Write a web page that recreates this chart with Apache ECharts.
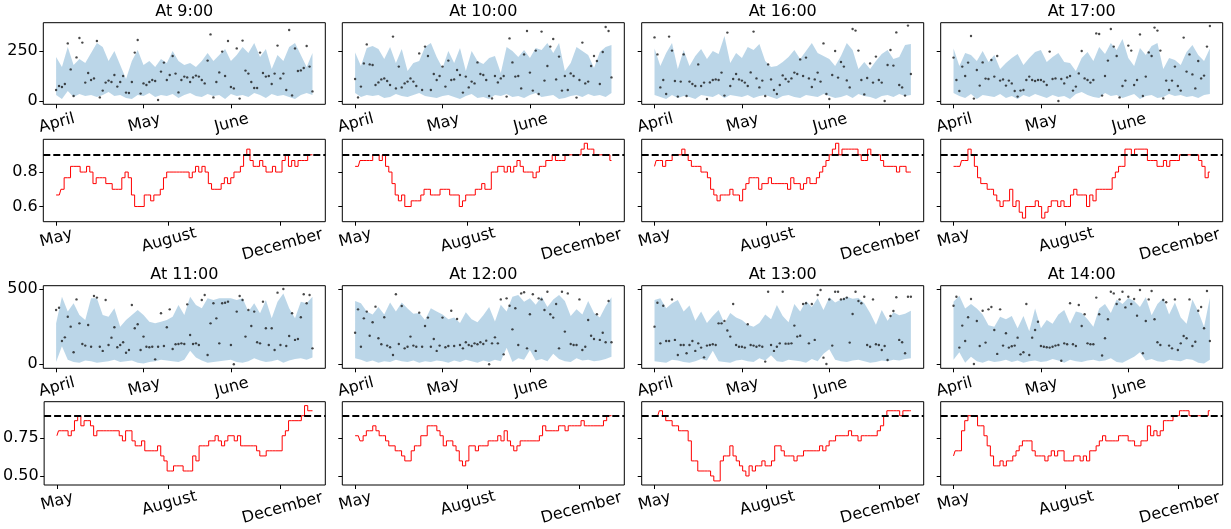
<!DOCTYPE html>
<html><head><meta charset="utf-8">
<script src="https://cdn.jsdelivr.net/npm/echarts@6/dist/echarts.min.js"></script>
<style>html,body{margin:0;padding:0;background:#fff}#c{width:1231px;height:529px}</style>
</head><body><div id="c"></div>
<script>
// ---------- data ----------
const hours = ['9:00','10:00','16:00','17:00','11:00','12:00','13:00','14:00'];
const bandMonthLabels = ['April','May','June'];
const bandTickPos = [0,30,60];
const lineMonthLabels = ['May','August','December'];
const lineTickPos = [0,35,70];
const row1BandTicks = [0,250];
const row2BandTicks = [0,500];
const row1LineTicks = [0.6,0.8];
const row2LineTicks = [0.5,0.75];
const target = 0.9;
const bandStep = 2; // band sampled every 2 days

// upper / lower band edges (every 2 days)
const up9  = [220,170,270,180,210,190,240,290,270,200,250,180,110,200,255,180,200,170,210,190,250,200,180,190,170,200,240,200,230,260,200,230,270,240,290,220,260,160,230,200,270,290,230,170,240];
const lo9  = [30,10,50,20,35,25,30,20,30,45,25,30,15,10,30,25,40,20,30,25,35,15,30,40,25,20,35,25,30,10,35,25,30,20,40,30,15,35,25,30,20,10,30,40,30];
const up10 = [242,175,265,275,260,210,270,190,260,150,190,200,270,290,220,165,250,190,265,150,250,200,185,215,225,140,270,250,220,255,215,265,255,290,240,290,150,190,270,250,230,165,245,270,280];
const lo10 = [40,20,30,25,30,15,20,35,25,20,30,40,25,20,15,25,30,20,10,25,35,15,20,10,30,25,35,20,25,15,30,40,20,25,30,10,15,25,30,20,35,25,30,20,40];
const up16 = [263,175,240,290,160,255,175,225,260,210,250,235,325,190,240,215,270,255,285,200,170,175,195,220,255,210,250,290,240,225,210,175,225,290,255,160,195,160,200,235,255,210,220,280,285];
const lo16 = [30,20,10,30,15,25,20,10,30,25,20,35,15,30,25,20,30,15,25,30,20,10,25,30,20,15,30,25,20,35,25,15,20,30,15,35,25,20,10,25,30,20,35,25,30];
const up17 = [263,175,240,230,200,250,195,230,160,190,215,235,180,215,245,255,195,220,240,195,190,150,215,245,200,270,235,290,255,310,215,175,265,230,275,290,160,215,205,180,245,280,230,200,263];
const lo17 = [40,25,15,35,10,30,25,20,35,15,25,10,30,20,35,25,15,30,20,25,10,35,45,30,20,15,40,25,30,15,25,35,10,25,30,15,20,35,25,30,20,25,15,30,35];
const up11 = [272,449,350,405,328,294,438,438,328,316,372,250,294,328,360,328,283,272,283,294,316,394,328,449,394,372,438,427,438,438,438,427,438,350,405,339,427,305,416,471,372,305,416,405,449];
const lo11 = [15,120,30,15,10,25,20,10,15,20,30,15,20,25,10,5,15,20,30,25,20,15,30,90,45,25,10,15,20,25,30,15,10,20,40,25,15,20,30,10,25,35,40,30,45];
const up12 = [420,405,350,330,380,330,410,350,410,370,335,340,295,372,350,330,300,310,275,345,300,280,325,380,285,395,350,449,460,415,438,395,450,380,430,460,420,320,365,330,420,340,310,385,445];
const lo12 = [40,30,15,25,10,20,15,30,20,15,25,10,20,15,25,20,10,25,15,30,20,10,25,15,30,20,110,15,40,30,95,25,35,20,70,35,20,15,40,25,30,20,25,35,50];
const up13 = [427,438,372,405,427,350,390,290,350,275,320,360,272,340,310,295,262,250,275,330,300,394,320,280,400,350,420,380,438,360,445,410,430,449,435,440,405,340,262,360,290,345,325,335,355];
const lo13 = [20,15,10,30,25,15,10,20,35,25,90,20,15,10,25,30,20,15,40,25,60,20,15,30,25,20,10,35,20,70,100,30,20,15,25,30,20,10,15,25,20,30,25,35,40];
const up14 = [416,455,370,400,370,330,260,250,315,300,320,240,320,220,370,240,295,270,330,360,270,350,340,300,250,370,400,340,430,400,440,420,380,445,325,400,440,330,410,310,270,430,350,250,440];
const lo14 = [30,80,10,50,20,10,25,15,20,30,15,25,10,20,25,15,20,35,25,10,30,20,15,25,30,20,25,40,15,10,30,50,80,25,35,20,15,30,25,20,35,30,10,5,30];

// daily observations (89 days)
const sc9  = [55,75,70,85,288,158,25,218,315,292,92,140,105,113,300,18,52,92,102,95,130,72,95,125,42,40,95,242,305,37,88,80,95,105,100,5,147,192,105,130,225,137,43,105,122,118,95,118,127,122,105,88,202,333,18,95,143,247,125,300,70,63,263,12,302,152,137,95,65,65,242,140,122,125,85,137,277,113,137,55,355,28,263,150,153,165,275,172,48];
const sc10 = [110,18,72,188,283,183,180,80,93,108,113,100,80,322,63,172,68,88,97,113,97,75,238,55,272,225,55,135,105,125,172,72,202,105,108,155,130,42,122,68,97,88,193,135,130,105,25,13,125,93,113,125,22,313,193,122,125,63,233,350,142,52,252,35,347,102,175,272,310,108,222,52,125,55,138,125,17,105,292,88,97,175,225,200,85,245,370,350,118];
const sc16 = [318,233,68,105,35,322,252,100,22,97,233,25,97,85,75,183,75,92,10,93,105,108,105,142,27,342,75,110,135,108,102,92,75,143,347,113,68,102,25,183,108,55,35,80,128,110,97,113,142,135,208,125,217,113,70,108,142,97,288,35,10,130,250,117,195,172,103,68,360,352,252,105,33,115,188,92,222,105,92,0,180,255,177,343,80,68,27,377,135];
const sc17 = [217,105,50,172,125,192,325,12,155,77,193,112,110,205,122,225,102,108,77,102,88,50,22,52,55,105,122,105,100,105,105,97,80,247,110,113,0,110,88,118,125,52,72,138,250,113,105,92,105,338,335,27,125,202,360,272,225,18,75,102,277,252,80,105,333,25,122,243,225,367,352,252,13,102,55,102,172,75,52,317,147,233,133,63,200,113,127,272,375];
const sc11 = [361,376,155,179,316,250,80,431,272,135,124,261,117,454,443,117,89,427,128,177,246,113,128,146,77,95,394,239,266,95,184,117,113,117,33,117,339,122,246,365,102,133,135,139,135,398,195,135,139,128,427,460,62,272,405,305,139,405,409,416,128,0,350,454,427,184,361,254,350,146,139,416,239,128,239,95,476,128,500,122,188,339,162,168,312,465,405,460,106];
const sc12 = [210,365,117,305,350,190,279,383,173,133,312,124,113,62,465,135,387,106,117,184,124,117,343,117,254,310,117,168,89,124,310,113,122,356,122,301,128,106,146,128,122,139,133,146,135,157,0,139,179,139,431,66,438,389,232,372,128,471,478,106,332,465,89,438,431,361,482,332,310,400,106,482,217,471,135,128,128,431,95,117,294,190,168,332,162,210,146,420,146];
const sc13 = [250,409,139,389,155,155,431,162,62,128,128,73,128,155,89,139,111,46,124,128,133,128,272,272,288,224,184,400,128,117,117,111,266,128,124,117,124,117,18,482,128,89,117,139,482,137,137,139,257,184,190,400,405,139,400,162,460,493,44,2,431,124,482,482,431,434,443,144,334,482,420,405,449,128,117,431,133,128,95,122,29,321,354,445,162,146,73,449,449];
const sc14 = [389,449,111,257,155,312,434,2,288,122,356,144,365,381,228,69,365,124,206,111,120,124,177,66,80,400,62,177,228,283,122,117,113,111,117,124,128,24,139,133,405,133,122,394,254,332,139,133,133,443,332,58,173,299,482,471,400,431,482,378,449,400,434,323,493,73,288,431,487,299,146,128,427,412,124,106,431,95,139,188,173,431,122,150,356,381,239,487,155];

// rolling coverage (81 steps)
const ln9  = [0.667,0.667,0.7,0.767,0.767,0.833,0.833,0.833,0.8,0.8,0.833,0.8,0.733,0.767,0.767,0.767,0.733,0.733,0.7,0.7,0.7,0.767,0.8,0.767,0.667,0.6,0.6,0.6,0.667,0.667,0.633,0.667,0.667,0.7,0.767,0.8,0.8,0.8,0.8,0.8,0.8,0.8,0.767,0.8,0.833,0.8,0.833,0.8,0.733,0.7,0.7,0.7,0.733,0.767,0.733,0.767,0.8,0.8,0.833,0.9,0.933,0.867,0.833,0.833,0.867,0.833,0.8,0.8,0.833,0.8,0.8,0.867,0.9,0.833,0.867,0.833,0.867,0.867,0.867,0.9,0.9];
const ln10 = [0.833,0.833,0.867,0.867,0.867,0.867,0.9,0.9,0.867,0.9,0.833,0.8,0.733,0.667,0.633,0.667,0.6,0.6,0.633,0.633,0.633,0.667,0.7,0.7,0.667,0.667,0.667,0.7,0.7,0.7,0.667,0.667,0.667,0.6,0.633,0.667,0.667,0.667,0.7,0.7,0.733,0.7,0.7,0.8,0.8,0.833,0.833,0.8,0.833,0.8,0.833,0.867,0.833,0.8,0.8,0.8,0.767,0.8,0.833,0.833,0.867,0.867,0.9,0.867,0.867,0.867,0.9,0.9,0.9,0.9,0.9,0.933,0.967,0.933,0.933,0.9,0.9,0.9,0.9,0.9,0.867];
const ln16 = [0.833,0.867,0.867,0.833,0.867,0.867,0.9,0.9,0.9,0.933,0.9,0.867,0.833,0.833,0.833,0.8,0.8,0.767,0.7,0.667,0.633,0.667,0.667,0.667,0.7,0.667,0.667,0.633,0.7,0.733,0.767,0.767,0.767,0.7,0.733,0.733,0.767,0.733,0.733,0.733,0.733,0.733,0.7,0.767,0.733,0.733,0.7,0.733,0.767,0.733,0.733,0.767,0.8,0.833,0.867,0.9,0.933,0.967,0.9,0.933,0.933,0.933,0.933,0.933,0.9,0.867,0.867,0.933,0.9,0.9,0.9,0.867,0.833,0.833,0.833,0.833,0.8,0.833,0.833,0.8,0.8];
const ln17 = [0.833,0.833,0.833,0.867,0.867,0.933,0.9,0.833,0.767,0.733,0.733,0.7,0.7,0.667,0.633,0.6,0.633,0.633,0.7,0.6,0.633,0.567,0.533,0.6,0.6,0.6,0.633,0.6,0.533,0.567,0.6,0.633,0.633,0.6,0.633,0.6,0.6,0.667,0.7,0.667,0.667,0.667,0.6,0.667,0.633,0.7,0.7,0.7,0.7,0.7,0.767,0.8,0.833,0.833,0.933,0.933,0.9,0.933,0.933,0.933,0.933,0.867,0.867,0.867,0.833,0.833,0.867,0.833,0.867,0.867,0.867,0.9,0.9,0.9,0.9,0.9,0.9,0.867,0.833,0.767,0.8];
const ln11 = [0.767,0.8,0.8,0.8,0.767,0.8,0.867,0.9,0.833,0.867,0.867,0.833,0.767,0.8,0.8,0.8,0.8,0.8,0.8,0.8,0.767,0.733,0.8,0.8,0.733,0.7,0.7,0.733,0.667,0.667,0.667,0.667,0.7,0.633,0.6,0.533,0.533,0.567,0.567,0.567,0.533,0.533,0.533,0.633,0.6,0.7,0.7,0.7,0.733,0.733,0.767,0.733,0.7,0.733,0.767,0.767,0.733,0.767,0.7,0.7,0.7,0.7,0.7,0.667,0.633,0.633,0.667,0.667,0.667,0.667,0.667,0.767,0.8,0.867,0.867,0.867,0.867,0.9,0.967,0.933,0.933];
const ln12 = [0.767,0.767,0.733,0.767,0.8,0.8,0.833,0.8,0.767,0.767,0.733,0.7,0.7,0.667,0.667,0.633,0.6,0.6,0.667,0.7,0.7,0.767,0.767,0.833,0.833,0.833,0.8,0.767,0.7,0.733,0.733,0.7,0.667,0.6,0.567,0.6,0.7,0.7,0.667,0.7,0.7,0.7,0.733,0.733,0.733,0.767,0.733,0.8,0.733,0.7,0.667,0.7,0.733,0.733,0.733,0.733,0.733,0.733,0.767,0.833,0.8,0.8,0.8,0.8,0.833,0.833,0.8,0.833,0.833,0.833,0.833,0.867,0.833,0.833,0.833,0.833,0.833,0.833,0.867,0.9,0.9];
const ln13 = [0.9,0.9,0.933,0.9,0.867,0.867,0.833,0.833,0.8,0.8,0.8,0.733,0.6,0.6,0.533,0.533,0.533,0.533,0.5,0.467,0.467,0.6,0.633,0.633,0.7,0.633,0.6,0.567,0.533,0.5,0.567,0.533,0.567,0.567,0.6,0.567,0.567,0.6,0.7,0.7,0.667,0.633,0.633,0.633,0.6,0.633,0.633,0.667,0.667,0.667,0.667,0.667,0.7,0.667,0.7,0.733,0.733,0.767,0.767,0.767,0.767,0.8,0.767,0.767,0.733,0.767,0.767,0.767,0.767,0.767,0.8,0.833,0.9,0.933,0.933,0.933,0.933,0.9,0.933,0.933,0.933];
const ln14 = [0.633,0.667,0.667,0.8,0.867,0.9,0.9,0.9,0.833,0.833,0.767,0.7,0.633,0.567,0.567,0.6,0.567,0.6,0.6,0.633,0.667,0.7,0.733,0.733,0.733,0.667,0.633,0.633,0.633,0.6,0.633,0.667,0.633,0.667,0.667,0.6,0.6,0.6,0.633,0.633,0.6,0.633,0.6,0.667,0.667,0.7,0.733,0.767,0.733,0.733,0.733,0.733,0.767,0.767,0.767,0.733,0.733,0.7,0.7,0.733,0.733,0.833,0.767,0.8,0.767,0.8,0.867,0.867,0.867,0.9,0.9,0.933,0.933,0.933,0.9,0.9,0.9,0.9,0.9,0.9,0.933];

const panelUp = [up9,up10,up16,up17,up11,up12,up13,up14];
const panelLo = [lo9,lo10,lo16,lo17,lo11,lo12,lo13,lo14];
const panelSc = [sc9,sc10,sc16,sc17,sc11,sc12,sc13,sc14];
const panelLn = [ln9,ln10,ln16,ln17,ln11,ln12,ln13,ln14];

// ---------- layout ----------
const FONT = 'DejaVu Sans';
const colLeft = [43.3, 342.3, 641.7, 940.7];
const W = 282;
const rowTop = [22.7, 139.3, 285.7, 401.7];
const rowH = [81.6, 82.4, 82.6, 83.3];
const titleTop = [4, 267];
const bandY = [[-16.5, 391.5], [-26.6, 522]];
const lineY = [[0.512, 0.99], [0.44, 0.993]];
const bandTicks = [row1BandTicks, row2BandTicks];
const lineTicks = [row1LineTicks, row2LineTicks];
const linePad = {May: 1, August: 5, December: 15};

const grids = [], xAxes = [], yAxes = [], series = [], titles = [];
const tickStyle = {show: true, length: 4, lineStyle: {color: '#000', width: 1}};
const noLine = {show: false, onZero: false};

hours.forEach((h, k) => {
  const r = Math.floor(k / 4), c = k % 4;
  titles.push({text: 'At ' + h, left: colLeft[c] + W / 2, top: titleTop[r], textAlign: 'center', padding: 0,
    textStyle: {fontFamily: FONT, fontSize: 16, fontWeight: 'normal', color: '#000'}});
  // band panel
  const gB = grids.length;
  grids.push({left: colLeft[c], top: rowTop[2 * r], width: W, height: rowH[2 * r], show: true,
    borderColor: '#000', borderWidth: 1, backgroundColor: 'transparent', containLabel: false});
  xAxes.push({type: 'value', gridIndex: gB, min: -4.4, max: 92.4, axisLine: noLine, splitLine: {show: false},
    axisTick: Object.assign({customValues: bandTickPos}, tickStyle),
    axisLabel: {customValues: bandTickPos, rotate: 15, align: 'center', verticalAlign: 'middle', margin: 16,
      formatter: v => '{a|' + bandMonthLabels[bandTickPos.indexOf(v)] + '}',
      rich: {a: {fontFamily: FONT, fontSize: 16, color: '#000', padding: [6, 0, 0, 0]}}}});
  const bt = bandTicks[r];
  yAxes.push({type: 'value', gridIndex: gB, min: bandY[r][0], max: bandY[r][1], axisLine: noLine, splitLine: {show: false},
    axisTick: Object.assign({customValues: bt}, tickStyle),
    axisLabel: {show: c === 0, customValues: bt, margin: 5.5, fontFamily: FONT, fontSize: 16, color: '#000',
      formatter: v => String(Math.round(v))}});
  const up = panelUp[k], lo = panelLo[k], sc = panelSc[k];
  series.push({type: 'custom', xAxisIndex: gB, yAxisIndex: gB, silent: true, z: 1,
    encode: {x: 0, y: [1, 2]},
    data: up.map((v, i) => [i * bandStep, v, lo[i]]),
    renderItem: (params, api) => {
      if (params.dataIndex !== 0) return null;
      const pts = [];
      for (let i = 0; i < up.length; i++) pts.push(api.coord([i * bandStep, up[i]]));
      for (let i = lo.length - 1; i >= 0; i--) pts.push(api.coord([i * bandStep, lo[i]]));
      return {type: 'polygon', shape: {points: pts}, style: {fill: 'rgba(31,119,180,0.3)', stroke: null}};
    }});
  series.push({type: 'scatter', xAxisIndex: gB, yAxisIndex: gB, symbolSize: 2.4, silent: true,
    itemStyle: {color: '#1a1a1a'}, data: sc.map((v, i) => [i, v]), z: 3});
  // coverage panel
  const gL = grids.length;
  grids.push({left: colLeft[c], top: rowTop[2 * r + 1], width: W, height: rowH[2 * r + 1], show: true,
    borderColor: '#000', borderWidth: 1, backgroundColor: 'transparent', containLabel: false});
  xAxes.push({type: 'value', gridIndex: gL, min: -4, max: 84, axisLine: noLine, splitLine: {show: false},
    axisTick: Object.assign({customValues: lineTickPos}, tickStyle),
    axisLabel: {customValues: lineTickPos, rotate: 15, align: 'center', verticalAlign: 'middle', margin: 16,
      formatter: v => { const t = lineMonthLabels[lineTickPos.indexOf(v)]; return '{' + t + '|' + t + '}'; },
      rich: Object.fromEntries(lineMonthLabels.map(t => [t, {fontFamily: FONT, fontSize: 16, color: '#000', padding: [linePad[t], 0, 0, 0]}]))}});
  const lt = lineTicks[r];
  yAxes.push({type: 'value', gridIndex: gL, min: lineY[r][0], max: lineY[r][1], axisLine: noLine, splitLine: {show: false},
    axisTick: Object.assign({customValues: lt}, tickStyle),
    axisLabel: {show: c === 0, customValues: lt, margin: 5.5, fontFamily: FONT, fontSize: 16, color: '#000',
      formatter: v => v.toFixed(r === 0 ? 1 : 2)}});
  series.push({type: 'line', xAxisIndex: gL, yAxisIndex: gL, symbol: 'none', silent: true, step: 'middle',
    lineStyle: {color: '#ff0000', width: 1}, data: panelLn[k].map((v, i) => [i, v]), z: 2,
    markLine: {silent: true, symbol: ['none', 'none'], label: {show: false},
      lineStyle: {color: '#000', type: [7, 3], width: 1.8}, data: [{yAxis: target}]}});
});

const chart = echarts.init(document.getElementById('c'), null, {renderer: 'canvas'});
chart.setOption({animation: false, backgroundColor: '#fff', title: titles, grid: grids, xAxis: xAxes, yAxis: yAxes, series: series});
</script>
</body></html>
